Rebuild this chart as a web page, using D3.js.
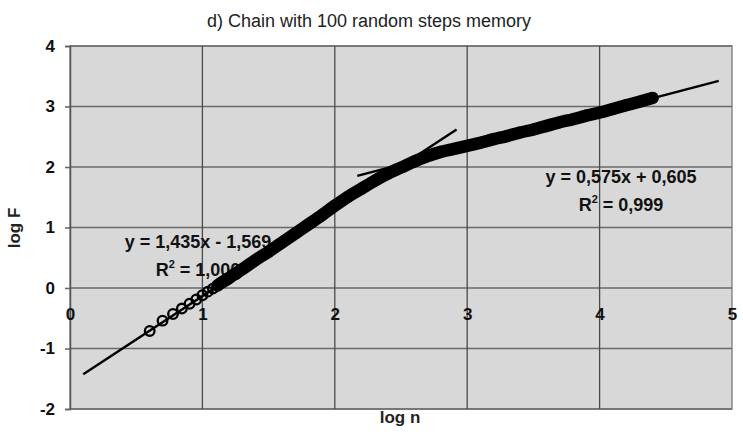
<!DOCTYPE html>
<html>
<head>
<meta charset="utf-8">
<script src="https://cdn.jsdelivr.net/npm/d3@7/dist/d3.min.js"></script>
<style>
  html, body { margin: 0; padding: 0; background: #fff; }
  svg { display: block; font-family: Arial, "Liberation Sans", sans-serif; }
</style>
</head>
<body>
<svg id="chart" width="743" height="444"></svg>
<script>
// ---- data ----
const title = "d) Chain with 100 random steps memory";
const xLabel = "log n";
const yLabel = "log F";
const xTicks = [0, 1, 2, 3, 4, 5];
const yTicks = [-2, -1, 0, 1, 2, 3, 4];

// measured points: log n and log F
const logN = [0.602, 0.699, 0.778, 0.845, 0.903, 0.954, 1.000, 1.041, 1.079, 1.114,
              1.146, 1.176, 1.204, 1.230, 1.255, 1.279, 1.301,
              1.40, 1.50, 1.60, 1.70, 1.80, 1.90, 2.00, 2.10, 2.20, 2.30,
              2.40, 2.50, 2.60, 2.70, 2.80, 2.90, 3.00, 3.10, 3.20, 3.30,
              3.40, 3.50, 3.60, 3.70, 3.80, 3.90, 4.00, 4.10, 4.20, 4.30, 4.40];
const logF = [-0.71, -0.54, -0.43, -0.34, -0.26, -0.19, -0.12, -0.06, -0.01, 0.04,
              0.09, 0.13, 0.17, 0.21, 0.24, 0.28, 0.31,
              0.46, 0.60, 0.75, 0.90, 1.05, 1.20, 1.36, 1.51, 1.64, 1.77,
              1.89, 1.99, 2.09, 2.18, 2.25, 2.30, 2.35, 2.40, 2.46, 2.51,
              2.57, 2.62, 2.68, 2.74, 2.79, 2.85, 2.90, 2.96, 3.02, 3.08, 3.14];

// linear trend lines: slope, intercept, x-range
const trendSlope = [1.435, 0.575];
const trendIntercept = [-1.569, 0.605];
const trendFrom = [0.10, 2.17];
const trendTo = [2.92, 4.90];
const trendEq = ["y = 1,435x - 1,569", "y = 0,575x + 0,605"];
const trendR2 = ["1,000", "0,999"];

// ---- layout ----
const svg = d3.select("#chart");
const L = 70, R = 732, T = 46, B = 409;
const x = d3.scaleLinear().domain([0, 5]).range([L, R]);
const y = d3.scaleLinear().domain([-2, 4]).range([B, T]);
const ink = "#000";

// plot background
svg.append("rect").attr("x", L).attr("y", T).attr("width", R - L).attr("height", B - T)
  .attr("fill", "#d8d8d8").attr("stroke", "#8a8a8a").attr("stroke-width", 1.5);

// grid
svg.append("g").selectAll("line").data(yTicks).join("line")
  .attr("x1", L).attr("x2", R).attr("y1", d => y(d)).attr("y2", d => y(d))
  .attr("stroke", "#6a6a6a").attr("stroke-width", 1.6);
svg.append("g").selectAll("line").data(xTicks.filter(d => d > 0 && d < 5)).join("line")
  .attr("y1", T).attr("y2", B).attr("x1", d => x(d)).attr("x2", d => x(d))
  .attr("stroke", "#4a4a4a").attr("stroke-width", 1.3);

// y axis
const yAxis = svg.append("g").attr("transform", `translate(${L},0)`)
  .call(d3.axisLeft(y).tickValues(yTicks).tickSize(5).tickPadding(10).tickFormat(d3.format("d")));
yAxis.select(".domain").attr("stroke", "#555").attr("stroke-width", 1.5);
yAxis.selectAll(".tick line").attr("stroke", "#6a6a6a").attr("stroke-width", 1.6);
yAxis.selectAll(".tick text").attr("font-size", 17).attr("font-weight", "bold")
  .attr("fill", "#111").attr("font-family", "Arial, 'Liberation Sans', sans-serif")
  .text(d => d < 0 ? "-" + Math.abs(d) : d);

// x axis labels along y = 0
const xAxis = svg.append("g").attr("transform", `translate(0,${y(0)})`)
  .call(d3.axisBottom(x).tickValues(xTicks).tickSize(0).tickPadding(20).tickFormat(d3.format("d")));
xAxis.select(".domain").remove();
xAxis.selectAll(".tick text").attr("font-size", 17).attr("font-weight", "bold")
  .attr("fill", "#111").attr("font-family", "Arial, 'Liberation Sans', sans-serif");

// trend equation labels (drawn under the data band)
const eqPos = [[198, 248], [621, 183]];
trendEq.forEach((t, i) => {
  svg.append("text").attr("x", eqPos[i][0]).attr("y", eqPos[i][1])
    .attr("text-anchor", "middle").attr("font-size", 18).attr("font-weight", "bold")
    .attr("fill", "#111").text(t);
  const r = svg.append("text").attr("x", eqPos[i][0]).attr("y", eqPos[i][1] + 28)
    .attr("text-anchor", "middle").attr("font-size", 18).attr("font-weight", "bold").attr("fill", "#111");
  r.append("tspan").text("R");
  r.append("tspan").attr("font-size", 11).attr("dy", -8).text("2");
  r.append("tspan").attr("dy", 8).text(" = " + trendR2[i]);
});

// data
const pts = logN.map((v, i) => ({ n: v, f: logF[i] }));

// dense part of the series: thick band through the points
const band = pts.filter(d => d.n >= 1.1);
svg.append("path").datum(band)
  .attr("d", d3.line().x(d => x(d.n)).y(d => y(d.f)).curve(d3.curveMonotoneX))
  .attr("fill", "none").attr("stroke", ink).attr("stroke-width", 12.5)
  .attr("stroke-linecap", "round").attr("stroke-linejoin", "round");

// circle markers
svg.append("g").selectAll("circle").data(pts).join("circle")
  .attr("cx", d => x(d.n)).attr("cy", d => y(d.f)).attr("r", 4.8)
  .attr("fill", "none").attr("stroke", ink).attr("stroke-width", 2.3);

// trend lines
trendSlope.forEach((m, i) => {
  const seg = [trendFrom[i], trendTo[i]].map(v => ({ n: v, f: m * v + trendIntercept[i] }));
  svg.append("path").datum(seg)
    .attr("d", d3.line().x(d => x(d.n)).y(d => y(d.f)))
    .attr("stroke", ink).attr("stroke-width", 2.4).attr("fill", "none");
});

// titles
svg.append("text").attr("x", 369).attr("y", 27).attr("text-anchor", "middle")
  .attr("font-size", 18).attr("fill", "#222").text(title);
svg.append("text").attr("x", 400).attr("y", 423).attr("text-anchor", "middle")
  .attr("font-size", 17).attr("font-weight", "bold").attr("fill", "#222").text(xLabel);
svg.append("text").attr("transform", "translate(20,228) rotate(-90)").attr("text-anchor", "middle")
  .attr("font-size", 17).attr("font-weight", "bold").attr("fill", "#222").text(yLabel);
</script>
</body>
</html>
